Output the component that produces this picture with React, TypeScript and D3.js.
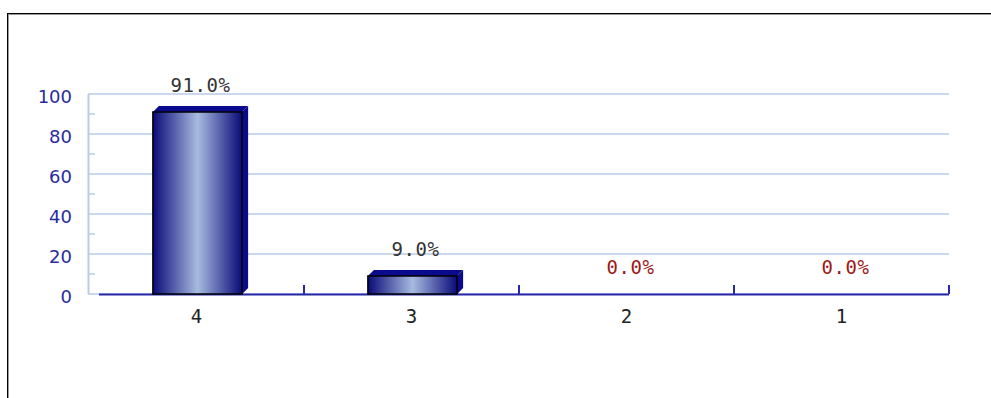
import React from "react";
import * as d3 from "d3";

const categories = ["4", "3", "2", "1"];
const values = [91.0, 9.0, 0.0, 0.0];
const labels = ["91.0%", "9.0%", "0.0%", "0.0%"];
const yTicks = [0, 20, 40, 60, 80, 100];
const yMinorTicks = [10, 30, 50, 70, 90];

const W = 991;
const H = 398;
const plot = { left: 89, right: 949, top: 94, bottom: 294 };
const DEPTH = 6;

export default function App() {
  const x = d3
    .scaleBand<string>()
    .domain(categories)
    .range([plot.left, plot.right])
    .paddingInner(0.585)
    .paddingOuter(0.2925);
  const band = d3.scaleBand<string>().domain(categories).range([plot.left, plot.right]);
  const y = d3.scaleLinear().domain([0, 100]).range([plot.bottom, plot.top]);
  const bw = x.bandwidth();

  return (
    <svg
      width={W}
      height={H}
      style={{ position: "absolute", left: 0, top: 0, background: "#fff" }}
    >
      <defs>
        <linearGradient id="barGrad" x1="0" x2="1" y1="0" y2="0">
          <stop offset="0" stopColor="#0a0a78" />
          <stop offset="0.5" stopColor="#a7bbdf" />
          <stop offset="1" stopColor="#0a0a78" />
        </linearGradient>
      </defs>
      {/* frame */}
      <line x1={7} x2={W} y1={13.5} y2={13.5} stroke="#000" strokeWidth={1} />
      <line x1={8} x2={W} y1={14.5} y2={14.5} stroke="#999" strokeWidth={1} />
      <line x1={7.5} x2={7.5} y1={13} y2={H} stroke="#000" strokeWidth={1} />
      <line x1={8.5} x2={8.5} y1={14} y2={H} stroke="#999" strokeWidth={1} />

      {/* gridlines */}
      {yTicks.map((t) => (
        <line
          key={"g" + t}
          x1={plot.left - 1}
          x2={plot.right}
          y1={y(t)}
          y2={y(t)}
          stroke="#b8cbe9"
          strokeWidth={1.5}
        />
      ))}
      {/* left axis */}
      <line x1={plot.left - 0.5} x2={plot.left - 0.5} y1={plot.top} y2={plot.bottom} stroke="#b8cbe9" strokeWidth={2} />
      {yMinorTicks.map((t) => (
        <line key={"m" + t} x1={plot.left} x2={plot.left + 6} y1={y(t)} y2={y(t)} stroke="#b8cbe9" strokeWidth={1.5} />
      ))}
      {yTicks.map((t) => (
        <text
          key={"yl" + t}
          x={72}
          y={y(t) + 9}
          textAnchor="end"
          fontFamily="DejaVu Sans, Verdana, sans-serif"
          fontSize={18}
          fill="#2a2a9f"
        >
          {t}
        </text>
      ))}

      {/* bottom axis */}
      <line x1={plot.left + 10} x2={plot.right} y1={plot.bottom + 0.5} y2={plot.bottom + 0.5} stroke="#2828a8" strokeWidth={2} />
      {categories.map((c) => {
        const xe = (band(c) as number) + band.bandwidth();
        return (
          <line key={"t" + c} x1={xe} x2={xe} y1={plot.bottom - 9} y2={plot.bottom} stroke="#2828a8" strokeWidth={2} />
        );
      })}
      {categories.map((c) => (
        <text
          key={"xl" + c}
          x={(band(c) as number) + band.bandwidth() / 2}
          y={323}
          textAnchor="middle"
          fontFamily="DejaVu Sans Mono, monospace"
          fontSize={19}
          fill="#222"
        >
          {c}
        </text>
      ))}

      {/* bars */}
      {categories.map((c, i) => {
        const v = values[i];
        if (v <= 0) return null;
        const x0 = (x(c) as number) + 1;
        const yt = y(v);
        const yb = y(0);
        const side = `M${x0 + bw},${yt} L${x0 + bw + DEPTH},${yt - DEPTH} L${x0 + bw + DEPTH},${yb - DEPTH} L${x0 + bw},${yb} Z`;
        const top = `M${x0},${yt} L${x0 + DEPTH},${yt - DEPTH} L${x0 + bw + DEPTH},${yt - DEPTH} L${x0 + bw},${yt} Z`;
        return (
          <g key={"b" + c}>
            <path d={side} fill="#0a0a8c" />
            <path d={top} fill="#0a0a8c" />
            <rect x={x0} y={yt} width={bw} height={yb - yt} fill="url(#barGrad)" stroke="#000" strokeWidth={1.5} />
          </g>
        );
      })}

      {/* value labels */}
      {categories.map((c, i) => {
        const cx = (x(c) as number) + 1 + bw / 2 + DEPTH / 2;
        const yt = y(values[i]) - DEPTH;
        return (
          <text
            key={"vl" + c}
            x={cx}
            y={yt - 14}
            textAnchor="middle"
            fontFamily="DejaVu Sans Mono, monospace"
            fontSize={19}
            letterSpacing={0.6}
            fill={values[i] > 0 ? "#333" : "#a01818"}
          >
            {labels[i]}
          </text>
        );
      })}
    </svg>
  );
}
